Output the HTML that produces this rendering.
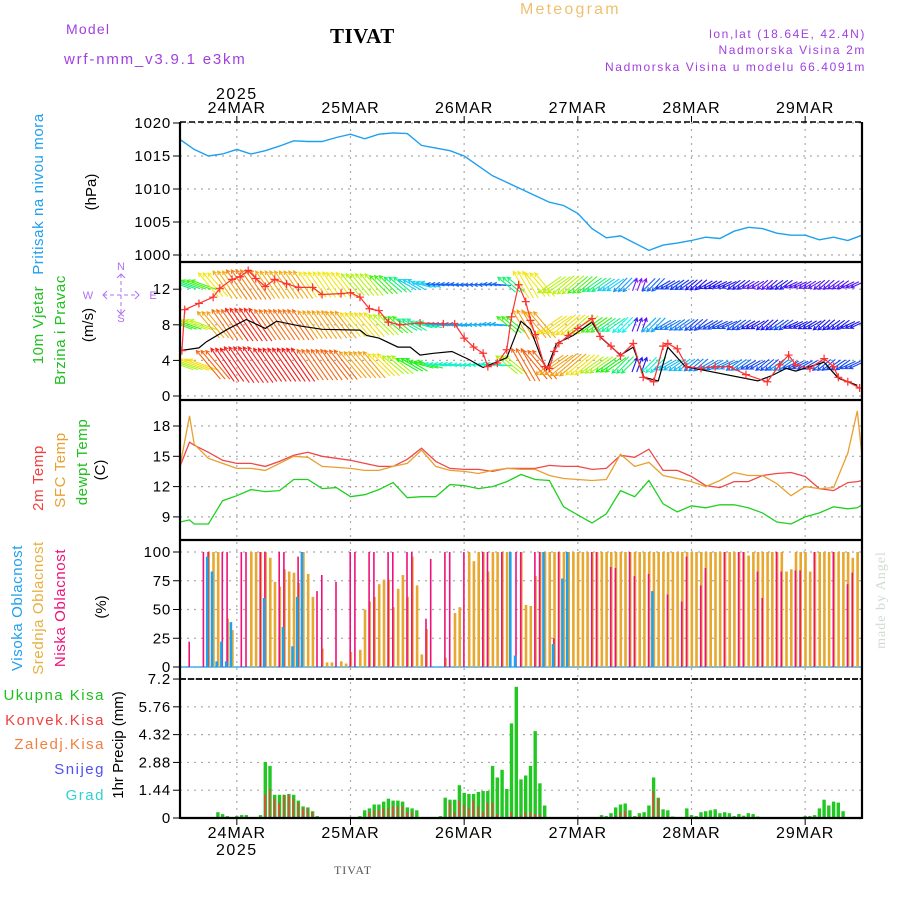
<!DOCTYPE html>
<html><head><meta charset="utf-8"><style>
html,body{margin:0;padding:0;background:#fff;}
svg{display:block;font-family:"Liberation Sans",sans-serif;}
</style></head><body>
<svg id="chart" width="900" height="900" viewBox="0 0 900 900" xmlns="http://www.w3.org/2000/svg">
<rect width="900" height="900" fill="#fff"/>
<g font-size="14" letter-spacing="1.2">
<text x="66" y="34" fill="#a040e0">Model</text>
<text x="64" y="64" fill="#a040e0" font-size="15" letter-spacing="1.8">wrf-nmm_v3.9.1 e3km</text>
<text x="330" y="43" fill="#000" font-family="Liberation Serif,serif" font-weight="bold" font-size="21" letter-spacing="0.5">TIVAT</text>
<text x="520" y="14" fill="#f0c070" font-size="16" letter-spacing="2.2">Meteogram</text>
<text x="866" y="38" fill="#a040e0" font-size="12" text-anchor="end" letter-spacing="1.6">lon,lat (18.64E, 42.4N)</text>
<text x="866" y="54" fill="#a040e0" font-size="12" text-anchor="end" letter-spacing="1.6">Nadmorska Visina 2m</text>
<text x="866" y="71" fill="#a040e0" font-size="12" text-anchor="end" letter-spacing="1.6">Nadmorska Visina u modelu 66.4091m</text>
</g>
<g font-size="15">
<text transform="translate(43,194) rotate(-90)" text-anchor="middle" fill="#20a0f0" letter-spacing="0.6">Pritisak na nivou mora</text>
<text transform="translate(96,192) rotate(-90)" text-anchor="middle" fill="#000">(hPa)</text>
<text transform="translate(43,325) rotate(-90)" text-anchor="middle" fill="#20c020" letter-spacing="0.6">10m Vjetar</text>
<text transform="translate(65,330) rotate(-90)" text-anchor="middle" fill="#20c020" letter-spacing="0.6">Brzina i Pravac</text>
<text transform="translate(93,325) rotate(-90)" text-anchor="middle" fill="#000">(m/s)</text>
<g fill="#b070f0" stroke="#b070f0" font-size="11">
<text x="121" y="270" text-anchor="middle" stroke="none">N</text>
<text x="121" y="322" text-anchor="middle" stroke="none">S</text>
<text x="88" y="299" text-anchor="middle" stroke="none">W</text>
<text x="153" y="299" text-anchor="middle" stroke="none">E</text>
<line x1="103" y1="295" x2="139" y2="295" stroke-dasharray="4,3"/>
<line x1="121" y1="274" x2="121" y2="314" stroke-dasharray="4,3"/>
<polyline points="107,291 103,295 107,299" fill="none"/><polyline points="135,291 139,295 135,299" fill="none"/>
<polyline points="117,278 121,274 125,278" fill="none"/><polyline points="117,310 121,314 125,310" fill="none"/>
</g>
<text transform="translate(43,478) rotate(-90)" text-anchor="middle" fill="#f04040" letter-spacing="0.6">2m Temp</text>
<text transform="translate(65,470) rotate(-90)" text-anchor="middle" fill="#e8a030" letter-spacing="0.6">SFC Temp</text>
<text transform="translate(87,462) rotate(-90)" text-anchor="middle" fill="#20c020" letter-spacing="0.6">dewpt Temp</text>
<text transform="translate(105,470) rotate(-90)" text-anchor="middle" fill="#000">(C)</text>
<text transform="translate(22,608) rotate(-90)" text-anchor="middle" fill="#20a0f0" letter-spacing="0.6">Visoka Oblacnost</text>
<text transform="translate(43,608) rotate(-90)" text-anchor="middle" fill="#e8b040" letter-spacing="0.6">Srednja Oblacnost</text>
<text transform="translate(65,608) rotate(-90)" text-anchor="middle" fill="#f0107a" letter-spacing="0.6">Niska Oblacnost</text>
<text transform="translate(106,607) rotate(-90)" text-anchor="middle" fill="#000">(%)</text>
<g font-size="15" letter-spacing="1.5" text-anchor="end">
<text x="105" y="700" fill="#20c020">Ukupna Kisa</text>
<text x="105" y="725" fill="#f04040">Konvek.Kisa</text>
<text x="105" y="749" fill="#f08040">Zaledj.Kisa</text>
<text x="105" y="774" fill="#5050f0">Snijeg</text>
<text x="105" y="800" fill="#30d0d0">Grad</text>
</g>
<text transform="translate(123,745) rotate(-90)" text-anchor="middle" fill="#000">1hr Precip (mm)</text>
</g>
<text transform="translate(885,600) rotate(-90)" text-anchor="middle" fill="#d0dcd0" font-family="Liberation Serif,serif" font-size="14" letter-spacing="1">made by Angel</text>
<text x="353" y="874" text-anchor="middle" fill="#555" font-family="Liberation Serif,serif" font-size="12" letter-spacing="1">TIVAT</text>
<g id="plot"></g>
</svg>
<script>
// ---------- data ----------
const dateLabels = ['24MAR','25MAR','26MAR','27MAR','28MAR','29MAR'];
const dateHours = [12,36,60,84,108,132];
const presTicks = [1000,1005,1010,1015,1020];
const windTicks = [0,4,8,12];
const tempTicks = [9,12,15,18];
const cloudTicks = [0,25,50,75,100];
const precipTicks = ['0','1.44','2.88','4.32','5.76','7.2'];

const presHours = [0,3,6,9,12,15,18,21,24,27,30,33,36,39,42,45,48,51,54,57,60,63,66,69,72,75,78,81,84,87,90,93,96,99,102,105,108,111,114,117,120,123,126,129,132,135,138,141,144];
const pressure = [1017.5,1016,1015,1015.3,1016,1015.3,1015.8,1016.5,1017.3,1017.2,1017.2,1017.8,1018.3,1017.6,1018.3,1018.5,1018.4,1016.6,1016.2,1015.8,1015,1013.5,1012,1011,1010,1009,1008,1007.5,1006.3,1004,1002.6,1002.9,1001.8,1000.7,1001.5,1001.8,1002.2,1002.7,1002.5,1003.6,1004.2,1004,1003.3,1003,1003,1002.3,1002.7,1002.2,1003];

const tempHours = [0,2,3,6,9,12,15,18,21,24,27,30,33,36,39,42,45,48,51,54,57,60,63,66,69,72,75,78,81,84,87,90,93,96,99,102,105,108,111,114,117,120,123,126,129,132,135,138,141,143,144];
const temp2m = [14,16.4,16.1,15.4,14.6,14.3,14.3,14,14.5,15.1,15.4,15,14.8,14.6,14.3,14,14,14.7,15.8,14.5,13.8,13.7,13.7,13.5,13.8,13.8,13.8,14.1,14,14,13.7,13.8,15.1,14.9,15.7,13.6,13.6,13,12.1,11.9,12.5,12.5,13.1,13.3,13.4,13,11.8,11.6,12.4,12.5,12.6];
const tempSfc = [14,19,16.2,14.8,14.3,13.8,13.8,13.6,14.3,15,14.9,14,13.9,13.8,13.6,13.6,14,14.3,15.6,14,13.6,13.5,13.3,13.6,13.8,13.7,13.7,13.1,12.8,12.7,12.6,12.7,15.2,14,14.4,13.1,12.8,12.5,12,12.6,13.4,13.1,13.1,12.3,11.1,12,11.8,11.9,15.3,19.5,15];
const tempDew = [8.5,8.7,8.3,8.3,10.6,11.1,11.7,11.5,11.6,12.7,12.7,11.8,11.9,11,11.2,11.7,12.4,10.9,11,11,12.2,12.1,11.8,12,12.5,13.2,12.7,12.6,10,9.2,8.4,9.3,11.6,11,12.6,10.3,9.5,10.1,9.9,10.2,10.2,9.9,9.4,8.5,8.3,9,9.4,10,9.8,9.9,10.2];

const gustHours = [0.4,1,4,7,8.4,11,12.7,14.4,16,18,20,22.5,25,28,30,34,36,38,40,42,44,46.4,50.7,55.6,58,60,62,64,65,67,69,70,71.5,73,74,75,77,78,79,80,82,84,87,88.7,91,93,95.7,97.8,100,102,103,105,107,110,113,116,119.5,124,126.6,128.5,130,133,136,138,139,141,143.5];
const gust = [5.1,9.7,10.4,11.1,12.1,13.1,13.4,14.1,13.2,12.3,13.1,12.6,12.2,12.2,11.4,11.5,11.6,11.1,9.8,9.6,8.3,8,8.2,8.1,8.1,6.5,5.5,4.8,3.3,3.7,5.2,8.9,12.5,10.6,8.5,6.9,3.3,3.1,5,5.9,6.8,7.6,8.7,6.7,5.6,4.5,5.9,2.1,1.6,5.6,5.9,5.3,3.3,3.1,3.3,3.3,2.4,1.6,3.5,4.6,3.5,3.1,4.2,3.3,2.1,1.6,0.9];
const speedHours = [0,4,5.6,10,14,18,20.4,25,30,38,39.4,42,46,48.6,50.7,53.5,57.4,61,64,69,72,74,76,77.4,79.5,83,87,89,93,95.7,98,101,103,106.7,122,125,128,130,136,139,143];
const speed10m = [5.1,5.4,6.1,7.5,8.6,7.6,8.4,7.9,7.5,7.4,6.8,6.5,5.5,5.5,4.6,4.8,5,4.1,3.2,4.3,8.4,7.5,4.7,3,5.9,6.8,8.3,6.5,4.6,5.5,2.1,1.7,5.5,3.3,1.7,2.3,3.1,2.8,3.8,2,1.2];

const vecHours = [0,3,6,9,12,15,18,21,24,27,30,33,36,39,42,45,48,51,54,57,60,63,66,69,72,75,78,81,84,87,90,93,96,99,102,105,108,111,114,117,120,123,126,129,132,135,138,141];
const vecDir = [160,160,130,125,125,125,125,125,125,125,125,128,130,130,135,140,150,165,175,175,180,180,175,140,120,130,215,220,220,215,215,225,70,225,210,215,220,210,205,215,210,220,215,205,210,220,215,205];
const vecSpd = [9,10,12,13,14,14,13,13,13,12,12,12,11,11,10,9,8,8,7,7,7,7,7,9,12,12,11,11,10,9,8,7.5,5,7,6.5,6.5,6,6,6,6,5.5,5.5,6,5.5,5.5,5.5,5.5,5.5];

const lowHours = [2,5,6,9,10,13,14,17,18,21,22,25,29,30,33,36,37,40,41,44,45,48,49,52,53,56,57,60,64,65,68,71,72,75,76,79,80,87,88,91,92,95,96,99,103,106,107,110,111,115,118,119,122,123,126,127,130,131,134,138,141,142];
const lowCloud = [22,100,100,100,100,100,100,100,100,100,100,96,66,80,74,100,100,100,100,100,100,100,100,42,94,100,100,100,100,100,100,100,100,100,100,25,100,100,100,87,86,100,79,81,63,57,96,71,86,100,100,100,83,60,100,83,84,84,100,100,72,82];
const midHours = [6,7,8,10,11,15,16,17,18,19,20,21,22,23,24,25,26,27,28,30,31,32,34,35,36,38,39,40,41,42,43,44,45,46,47,48,49,50,51,52,56,58,59,61,62,63,64,65,66,67,68,69,72,73,74,75,76,77,78,79,80,81,82,83,84,85,86,87,88,89,90,91,92,93,94,95,96,97,98,99,100,101,102,103,104,105,106,107,108,109,110,111,112,113,114,115,116,117,118,119,120,121,122,123,124,125,126,127,128,129,130,131,132,133,134,135,136,137,138,139,140,141,142,143,144];
const midCloud = [100,100,100,42,32,100,100,100,100,95,74,70,85,83,82,73,100,81,61,16,4,4,5,3,13,15,50,57,61,72,76,76,52,68,80,61,96,71,11,33,8,47,52,100,92,100,100,83,100,100,100,100,100,54,53,79,100,100,100,100,100,100,100,100,100,100,100,100,100,100,100,100,100,100,100,100,100,100,100,100,100,100,100,100,100,100,100,100,100,100,100,100,100,100,100,100,100,100,100,100,97,100,100,100,100,100,100,100,83,85,100,100,100,83,100,100,100,100,100,100,100,100,95,100,100];
const highHours = [6,7,8,9,10,11,18,22,24,25,26,70,71,77,79,81,82,100];
const highCloud = [96,83,5,22,5,39,60,35,18,61,100,100,10,100,20,77,100,66];

const precipHours = [8,9,10,11,12,13,14,16,17,18,19,20,21,22,23,24,25,26,27,28,29,30,34,36,37,38,39,40,41,42,43,44,45,46,47,48,49,50,55,56,57,58,59,60,61,62,63,64,65,66,67,68,69,70,71,72,73,74,75,76,77,87,88,89,90,91,92,93,94,95,96,97,98,99,100,101,102,103,104,107,108,109,110,111,112,113,114,115,116,117,118,119,120,121,122,132,133,134,135,136,137,138,139,140];
const precipTotal = [0.3,0.2,0.1,0.05,0.1,0.15,0.15,0.05,0.15,2.9,2.7,1.2,1.2,1.2,1.25,1.2,0.9,0.6,0.55,0.35,0.1,0.05,0.05,0.05,0.05,0.1,0.4,0.5,0.7,0.7,0.85,1,0.9,0.9,0.85,0.55,0.5,0.4,0.1,1.05,0.95,0.95,1.7,1.3,1.25,1.25,1.35,1.4,1.4,2.7,2.1,2.5,1.5,4.9,6.8,2,2.2,2.7,4.5,1.8,0.65,0.02,0.05,0.15,0.1,0.25,0.55,0.7,0.75,0.4,0.1,0.25,0.3,0.65,2.1,1.05,0.45,0.4,0.08,0.5,0.15,0.1,0.3,0.35,0.4,0.45,0.25,0.3,0.25,0.1,0.2,0.12,0.25,0.2,0.08,0.1,0.1,0.15,0.5,0.95,0.65,0.85,0.8,0.35];
const convHours = [18,19,20,21,22,23,24,25,26,27,28,40,41,42,43,44,45,46,47,48,49,57,58,59,60,61,62,63,64,65,66,67,70,72,73,74,75,76,92,93,94,97,100,101,103];
const convPrecip = [1.2,1.5,1.0,0.8,1.2,1.2,1.0,0.8,0.5,0.5,0.3,0.3,0.4,0.4,0.5,0.5,0.6,0.6,0.6,0.3,0.3,0.8,0.3,0.9,0.7,0.5,0.9,0.6,0.3,0.8,0.8,0.2,0.3,0.15,0.3,0.3,0.2,0.2,0.1,0.3,0.35,0.1,1.4,1.0,0.1];

// ---------- scales ----------
const X0=180, X1=862, H=144;
const x = h => X0 + h*(X1-X0)/H;
const yP = p => 255 - (p-1000)*6.6;
const yW = v => 396 - v*8.9;
const yT = t => 426 + (18-t)*10.1;
const yC = c => 667 - c*1.15;
const yR = r => 818 - r*19.3;
const NS='http://www.w3.org/2000/svg';
const plot=document.getElementById('plot');
function mk(tag, attrs, parent){const e=document.createElementNS(NS,tag);for(const k in attrs)e.setAttribute(k,attrs[k]);(parent||plot).appendChild(e);return e;}

const defs=mk('defs',{});
[['clip-wind',262,400],['clip-temp',400,540],['clip-cloud',540,679],['clip-precip',679,818],['clip-pres',122,262]].forEach(c=>{
  const cp=mk('clipPath',{id:c[0]},defs);mk('rect',{x:X0,y:c[1],width:X1-X0,height:c[2]-c[1]},cp);
});

function hgrid(vals, fy, labels, name){
  vals.forEach((v,i)=>{
    const y=fy(v);
    const g=mk('line',{x1:X0,x2:X1,y1:y,y2:y,stroke:'#aaa','stroke-dasharray':'2,5','stroke-width':1.2});
    
    
    const t=mk('line',{x1:X0-7,x2:X0,y1:y,y2:y,stroke:'#000','stroke-width':1});
    
    
    const tx=mk('text',{x:X0-9,y:y+5,'text-anchor':'end','font-size':15,fill:'#000','letter-spacing':0.8});
    tx.textContent=labels?labels[i]:String(v);
    
    
  });
}
hgrid(presTicks,yP,null,'pressure-axis');
hgrid(windTicks,yW,null,'wind-axis');
hgrid(tempTicks,yT,null,'temp-axis');
hgrid(cloudTicks,yC,null,'cloud-axis');
hgrid(precipTicks.map(Number),yR,precipTicks,'precip-axis');
dateHours.forEach((h,i)=>{
  const xx=x(h);
  const g=mk('line',{x1:xx,x2:xx,y1:122,y2:818,stroke:'#aaa','stroke-dasharray':'2,5','stroke-width':1.2});
  
  
  mk('line',{x1:xx,x2:xx,y1:116,y2:122,stroke:'#000'});
  mk('line',{x1:xx,x2:xx,y1:818,y2:825,stroke:'#000'});
  const t1=mk('text',{x:xx,y:113,'text-anchor':'middle','font-size':16,'letter-spacing':1});
  t1.textContent=dateLabels[i];
  
  
  const t2=mk('text',{x:xx,y:838,'text-anchor':'middle','font-size':16,'letter-spacing':1});
  t2.textContent=dateLabels[i];
  
  
});
const y1=mk('text',{x:x(12),y:99,'text-anchor':'middle','font-size':16,'letter-spacing':1.5});
y1.textContent='2025';


const y2=mk('text',{x:x(12),y:855,'text-anchor':'middle','font-size':16,'letter-spacing':1.5});
y2.textContent='2025';



function line(hs, vs, fy, color, name, clip, w){
  const pts=hs.map((h,i)=>x(h).toFixed(1)+','+fy(vs[i]).toFixed(1)).join(' ');
  const p=mk('polyline',{points:pts,fill:'none',stroke:color,'stroke-width':w||1.3,'clip-path':'url(#'+clip+')'});
  
  
  return p;
}
line(presHours,pressure,yP,'#1ea0f0','pressure-line','clip-pres',1.4);

// wind vectors
const rowCenters=[12.5,8,3.5,-2.6];
const rowFactor=[0.95,1.05,1.15,1.2];
function windColor(s){
  const stops=[[4.5,275],[6,235],[7.5,195],[9,125],[10.5,75],[12,45],[13.5,28],[15,0]];
  if(s<=stops[0][0])return 'hsl(275,85%,55%)';
  for(let i=1;i<stops.length;i++){if(s<=stops[i][0]){const a=stops[i-1],b=stops[i];const t=(s-a[0])/(b[0]-a[0]);return 'hsl('+(a[1]+(b[1]-a[1])*t).toFixed(0)+',90%,52%)';}}
  return 'hsl(0,90%,55%)';
}
const wg=mk('g',{'clip-path':'url(#clip-wind)'});


rowCenters.forEach((rc,ri)=>{
  vecHours.forEach((h,i)=>{
    for(let k=0;k<3;k++){
      const s=vecSpd[i]*rowFactor[ri];
      const L=s*2.7, a=vecDir[i]*Math.PI/180;
      const dx=Math.cos(a)*L, dy=-Math.sin(a)*L;
      const cx=x(h+k), cy=yW(rc);
      const xs=cx-dx/2, ys=cy-dy/2, xe=cx+dx/2, ye=cy+dy/2;
      const col=windColor(s);
      const ar=mk('path',{d:`M${xs.toFixed(1)},${ys.toFixed(1)}L${xe.toFixed(1)},${ye.toFixed(1)}`+
        `M${(xe-4*Math.cos(a-0.5)).toFixed(1)},${(ye+4*Math.sin(a-0.5)).toFixed(1)}L${xe.toFixed(1)},${ye.toFixed(1)}L${(xe-4*Math.cos(a+0.5)).toFixed(1)},${(ye+4*Math.sin(a+0.5)).toFixed(1)}`,
        stroke:col,'stroke-width':1.1,fill:'none'},wg);
      
      
    }
  });
});
line(speedHours,speed10m,yW,'#000','wind-speed-line','clip-wind',1.2);
line(gustHours,gust,yW,'#ff3030','wind-gust-line','clip-wind',1.2);
gustHours.forEach((h,i)=>{
  const cx=x(h), cy=yW(gust[i]);
  const m=mk('path',{d:`M${cx-4},${cy}h8M${cx},${cy-4}v8`,stroke:'#ff3030','stroke-width':1.2,'clip-path':'url(#clip-wind)'});
  
  
});

line(tempHours,temp2m,yT,'#f04848','temp-2m-line','clip-temp',1.3);
line(tempHours,tempSfc,yT,'#e8a030','temp-sfc-line','clip-temp',1.3);
line(tempHours,tempDew,yT,'#20d020','dewpoint-line','clip-temp',1.3);

mk('line',{x1:X0,x2:X1,y1:667,y2:667,stroke:'#40b0f0','stroke-width':1.5});
function bars(hs, vs, fy, color, w, off, name, clip){
  hs.forEach((h,i)=>{
    const y=fy(vs[i]), b=fy(0);
    const r=mk('rect',{x:(x(h)+off-w/2).toFixed(1),y:y.toFixed(1),width:w,height:Math.max(0,b-y).toFixed(1),fill:color,'clip-path':'url(#'+clip+')'});
    
    
  });
}
bars(midHours,midCloud,yC,'#e8a830',2.6,0.3,'mid-cloud-bar','clip-cloud');
bars(lowHours,lowCloud,yC,'#f0107a',1.6,-0.3,'low-cloud-bar','clip-cloud');
bars(highHours,highCloud,yC,'#20a0f0',2.6,-1.2,'high-cloud-bar','clip-cloud');

bars(precipHours,precipTotal,yR,'#22c822',3.4,0,'total-precip-bar','clip-precip');
bars(convHours,convPrecip,yR,'#f04040',1.6,-0.3,'convective-precip-bar','clip-precip');

const fr=[
 ['line',{x1:X0,x2:X1,y1:122,y2:122,stroke:'#000','stroke-width':1.5,'stroke-dasharray':'6,3'},'pressure-top-border'],
 ['line',{x1:X0,x2:X1,y1:262,y2:262,stroke:'#000','stroke-width':2.2},'wind-top-border'],
 ['line',{x1:X0,x2:X1,y1:400,y2:400,stroke:'#000','stroke-width':2.2},'temp-top-border'],
 ['line',{x1:X0,x2:X1,y1:540,y2:540,stroke:'#000','stroke-width':2.2},'cloud-top-border'],
 ['line',{x1:X0,x2:X1,y1:679,y2:679,stroke:'#000','stroke-width':1.8,'stroke-dasharray':'6,2'},'precip-top-border'],
 ['line',{x1:X0,x2:X1,y1:818,y2:818,stroke:'#000','stroke-width':2.2},'bottom-border'],
 ['line',{x1:X0,x2:X0,y1:122,y2:819,stroke:'#000','stroke-width':2.2},'left-border'],
 ['line',{x1:X1,x2:X1,y1:122,y2:819,stroke:'#000','stroke-width':2.2},'right-border']
];
fr.forEach(f=>{const e=mk(f[0],f[1]);});
</script>
</body></html>
